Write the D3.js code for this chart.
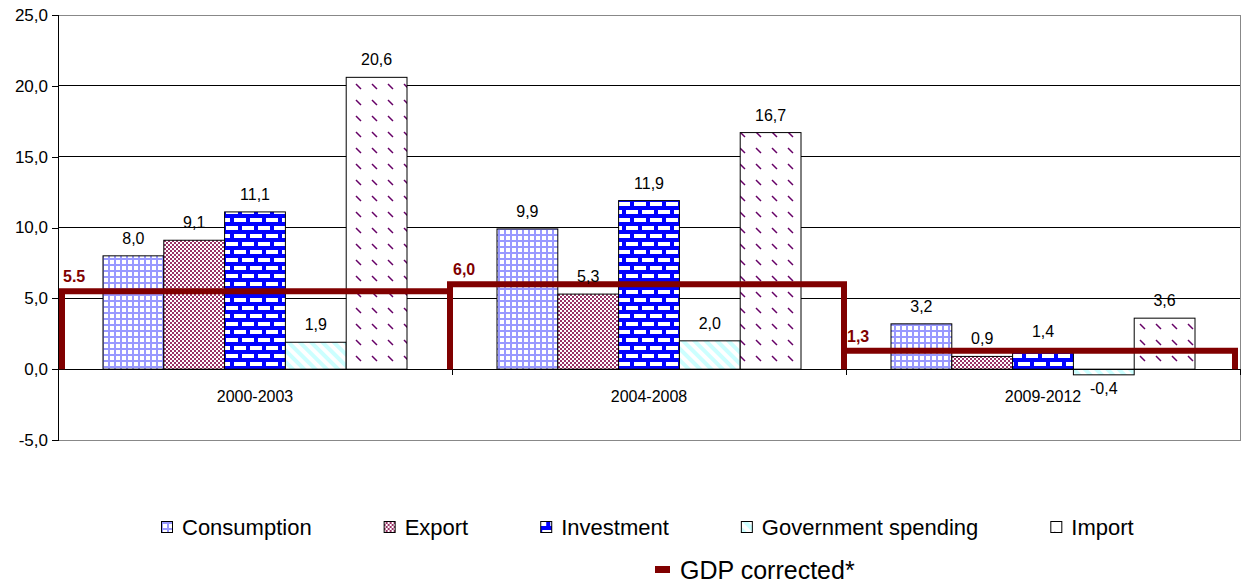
<!DOCTYPE html>
<html>
<head>
<meta charset="utf-8">
<script src="https://cdn.jsdelivr.net/npm/d3@7"></script>
<style>
  html, body { margin: 0; padding: 0; background: #fff; }
  svg { display: block; font-family: "Liberation Sans", Arial, sans-serif; }
</style>
</head>
<body>
<svg id="chart" width="1246" height="583"></svg>
<script>
// Growth by component, per period (%)
const periods = ["2000-2003", "2004-2008", "2009-2012"];
const seriesNames = ["Consumption", "Export", "Investment", "Government spending", "Import"];
const consumption = [8.0, 9.9, 3.2];
const exportVals = [9.1, 5.3, 0.9];
const investment = [11.1, 11.9, 1.4];
const government = [1.9, 2.0, -0.4];
const importVals = [20.6, 16.7, 3.6];
const gdpCorrected = [5.5, 6.0, 1.3];
const gdpLabels = ["5.5", "6,0", "1,3"];
const gdpName = "GDP corrected*";
const yTicks = [-5, 0, 5, 10, 15, 20, 25];

const seriesValues = [consumption, exportVals, investment, government, importVals];

const svg = d3.select("#chart");
const margin = { left: 58, right: 1240, top: 15, bottom: 440 };

const fmt = v => d3.format(".1f")(v).replace(".", ",").replace("\u2212", "-");

// ---- fill patterns -------------------------------------------------------
const defs = svg.append("defs");

// Consumption: light blue grid
const pCons = defs.append("pattern").attr("id", "p-cons")
  .attr("patternUnits", "userSpaceOnUse").attr("width", 6).attr("height", 6);
pCons.append("rect").attr("width", 6).attr("height", 6).attr("fill", "#fff");
pCons.append("rect").attr("x", 0).attr("y", 0).attr("width", 2).attr("height", 6).attr("fill", "#9999ff");
pCons.append("rect").attr("x", 0).attr("y", 0).attr("width", 6).attr("height", 2).attr("fill", "#9999ff");

// Export: fine maroon checkerboard
const pExp = defs.append("pattern").attr("id", "p-exp")
  .attr("patternUnits", "userSpaceOnUse").attr("width", 4).attr("height", 4);
pExp.append("rect").attr("width", 4).attr("height", 4).attr("fill", "#fff");
pExp.append("rect").attr("x", 0).attr("y", 0).attr("width", 2).attr("height", 2).attr("fill", "#993366");
pExp.append("rect").attr("x", 2).attr("y", 2).attr("width", 2).attr("height", 2).attr("fill", "#993366");

// Investment: blue brick
const pInv = defs.append("pattern").attr("id", "p-inv")
  .attr("patternUnits", "userSpaceOnUse").attr("width", 16).attr("height", 16);
pInv.append("rect").attr("width", 16).attr("height", 16).attr("fill", "#0000ff");
pInv.append("rect").attr("x", 2).attr("y", 2).attr("width", 12).attr("height", 4).attr("fill", "#fff");
pInv.append("rect").attr("x", -6).attr("y", 10).attr("width", 12).attr("height", 4).attr("fill", "#fff");
pInv.append("rect").attr("x", 10).attr("y", 10).attr("width", 12).attr("height", 4).attr("fill", "#fff");

// Government spending: wide light cyan diagonal stripes
const pGov = defs.append("pattern").attr("id", "p-gov")
  .attr("patternUnits", "userSpaceOnUse").attr("width", 8).attr("height", 8)
  .attr("patternTransform", "rotate(-45)");
pGov.append("rect").attr("width", 8).attr("height", 8).attr("fill", "#fff");
pGov.append("rect").attr("x", 0).attr("y", 0).attr("width", 4).attr("height", 8).attr("fill", "#ccffff");

// Import: sparse small purple dashes
const pImp = defs.append("pattern").attr("id", "p-imp")
  .attr("patternUnits", "userSpaceOnUse").attr("width", 16).attr("height", 16);
pImp.append("rect").attr("width", 16).attr("height", 16).attr("fill", "#fff");
pImp.append("line").attr("x1", 4).attr("y1", 4).attr("x2", 9).attr("y2", 9)
  .attr("stroke", "#660066").attr("stroke-width", 1.5);

const fills = ["url(#p-cons)", "url(#p-exp)", "url(#p-inv)", "url(#p-gov)", "url(#p-imp)"];

// ---- scales --------------------------------------------------------------
const y = d3.scaleLinear().domain([-5, 25]).range([margin.bottom, margin.top]);
const x = d3.scaleBand().domain(periods).range([margin.left, margin.right]).paddingInner(0).paddingOuter(0);
const xInner = d3.scaleBand().domain(seriesNames)
  .range([45, x.bandwidth() - 45]).paddingInner(0).paddingOuter(0);

// ---- gridlines & frame ---------------------------------------------------
svg.append("g").selectAll("line").data(yTicks.filter(t => t !== 0 && t !== -5 && t !== 25))
  .join("line")
  .attr("x1", margin.left).attr("x2", margin.right)
  .attr("y1", d => y(d)).attr("y2", d => y(d))
  .attr("stroke", "#000").attr("stroke-width", 1).attr("shape-rendering", "crispEdges");

svg.append("rect")
  .attr("x", margin.left).attr("y", y(25))
  .attr("width", margin.right - margin.left).attr("height", y(-5) - y(25))
  .attr("fill", "none").attr("stroke", "#888").attr("stroke-width", 1)
  .attr("shape-rendering", "crispEdges");

// ---- y axis --------------------------------------------------------------
const yAxis = svg.append("g")
  .attr("transform", `translate(${margin.left},0)`)
  .call(d3.axisLeft(y).tickValues(yTicks).tickFormat(fmt).tickSize(6).tickPadding(4));
yAxis.select(".domain").attr("stroke", "#000").attr("shape-rendering", "crispEdges");
yAxis.selectAll(".tick line").attr("stroke", "#000").attr("shape-rendering", "crispEdges");
yAxis.selectAll("text").attr("font-size", 17).attr("fill", "#000")
  .attr("font-family", "Liberation Sans, Arial, sans-serif");

// ---- bars ----------------------------------------------------------------
const barData = [];
seriesNames.forEach((s, si) => {
  periods.forEach((p, pi) => {
    barData.push({ series: s, si, period: p, value: seriesValues[si][pi] });
  });
});

const bars = svg.append("g");
bars.selectAll("rect").data(barData).join("rect")
  .attr("x", d => x(d.period) + xInner(d.series))
  .attr("width", xInner.bandwidth())
  .attr("y", d => Math.min(y(d.value), y(0)))
  .attr("height", d => Math.abs(y(d.value) - y(0)))
  .attr("fill", d => fills[d.si])
  .attr("stroke", "#000").attr("stroke-width", 1);

// ---- x axis (zero line) ------------------------------------------------
svg.append("line")
  .attr("x1", margin.left).attr("x2", margin.right)
  .attr("y1", y(0)).attr("y2", y(0))
  .attr("stroke", "#000").attr("shape-rendering", "crispEdges");
svg.append("g").selectAll("line").data(periods.slice(1).concat(["end"]))
  .join("line")
  .attr("x1", d => d === "end" ? margin.right : x(d))
  .attr("x2", d => d === "end" ? margin.right : x(d))
  .attr("y1", y(0)).attr("y2", y(0) + 6)
  .attr("stroke", "#000").attr("shape-rendering", "crispEdges");

svg.append("g").selectAll("text").data(periods).join("text")
  .attr("x", d => x(d) + x.bandwidth() / 2)
  .attr("y", y(0) + 33)
  .attr("text-anchor", "middle")
  .attr("font-size", 16).attr("fill", "#000")
  .text(d => d);

// ---- GDP step line -------------------------------------------------------
// Each period is a plateau; neighbouring periods share one vertical riser
// at their common boundary, the outer edges are inset slightly.
const gdpLine = d3.line().x(d => d[0]).y(d => d[1]);
const gdpG = svg.append("g");
periods.forEach((p, i) => {
  const x0 = i === 0 ? x(p) + 4 : x(p) - 2;
  const x1 = i === periods.length - 1 ? x(p) + x.bandwidth() - 5 : x(p) + x.bandwidth() - 2;
  const pts = [[x0, y(0)], [x0, y(gdpCorrected[i])], [x1, y(gdpCorrected[i])], [x1, y(0)]];
  gdpG.append("path").attr("d", gdpLine(pts))
    .attr("fill", "none").attr("stroke", "#800000").attr("stroke-width", 6)
    .attr("stroke-linejoin", "miter").attr("stroke-linecap", "butt");
});

// ---- value labels --------------------------------------------------------
svg.append("g").selectAll("text").data(barData).join("text")
  .attr("x", d => x(d.period) + xInner(d.series) + xInner.bandwidth() / 2)
  .attr("y", d => d.value >= 0 ? y(d.value) - 12 : y(d.value) + 19)
  .attr("text-anchor", "middle")
  .attr("font-size", 16).attr("fill", "#000")
  .text(d => fmt(d.value));

svg.append("g").selectAll("text").data(periods).join("text")
  .attr("x", (d, i) => i === 0 ? x(d) + 5 : x(d) + 1)
  .attr("y", (d, i) => y(gdpCorrected[i]) - 9)
  .attr("font-size", 16).attr("font-weight", "bold").attr("fill", "#800000")
  .text((d, i) => gdpLabels[i]);

// ---- legend --------------------------------------------------------------
const legend = svg.append("g");
let lx = 161;
const ly = 527;
seriesNames.forEach((s, i) => {
  const item = legend.append("g").attr("transform", `translate(${lx},0)`);
  item.append("rect").attr("x", 0.5).attr("y", ly - 5.5).attr("width", 11).attr("height", 11)
    .attr("fill", fills[i]).attr("stroke", "#000").attr("stroke-width", 1);
  const t = item.append("text").attr("x", 21).attr("y", ly + 8)
    .attr("font-size", 22).attr("fill", "#000").text(s);
  lx += 21 + t.node().getComputedTextLength() + 72;
});

const g2 = legend.append("g").attr("transform", "translate(655,0)");
g2.append("rect").attr("x", 0).attr("y", 566).attr("width", 15).attr("height", 7).attr("fill", "#800000");
g2.append("text").attr("x", 25).attr("y", 579).attr("font-size", 25).attr("fill", "#000").text(gdpName);
</script>
</body>
</html>
